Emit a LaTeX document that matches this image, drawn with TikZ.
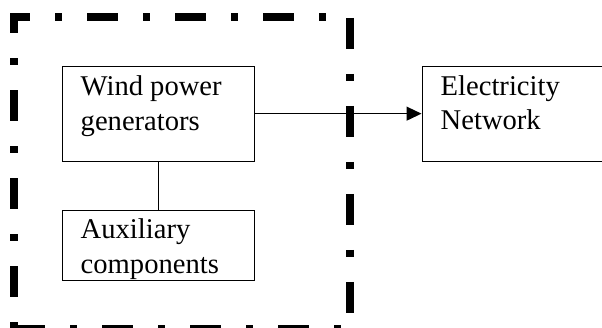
\documentclass[tikz,border=0pt]{standalone}
\usepackage{fontspec}
\setmainfont{Liberation Serif}
\usetikzlibrary{arrows.meta}
\begin{document}
\begin{tikzpicture}[x=1pt,y=-1pt,
  box/.style={draw, line width=1.3pt, inner sep=0pt, anchor=north west},
  txt/.style={anchor=base west, inner sep=0pt, align=left,
    font=\fontsize{28.6}{34.5}\selectfont},
  frame/.style={line width=7.5pt, line cap=butt, line join=miter,
    dash pattern=on 31pt off 25pt on 7pt off 25pt},
  conn/.style={line width=1.3pt}]
\useasboundingbox (0,0) rectangle (602,327);
% dash-dot frame
\coordinate (tl) at (13.75,16.75);
\coordinate (tr) at (350,16.75);
\coordinate (br) at (350,328.75);
\coordinate (bl) at (13.75,328.75);
\coordinate (tltop) at (13.75,13);
\draw[frame, dash phase=14.75pt] (tl) -- (tr) -- (br) -- (bl);
\draw[frame, dash phase=11pt] (tltop) -- (bl);
% boxes
\node[box, minimum width=192.5pt, minimum height=95pt] (wind) at (61.5,66) {};
\node[box, minimum width=192.5pt, minimum height=70pt] (aux) at (61.5,210) {};
\node[box, minimum width=190pt, minimum height=95pt] (elec) at (421.5,65.5) {};
% texts (anchor is the baseline of the last line)
\node[txt] (windtxt) at (80.5,130.2) {Wind power\\generators};
\node[txt] (auxtxt) at (80.5,273) {Auxiliary\\components};
\node[txt] (electxt) at (440.5,129.5) {Electricity\\Network};
% connectors
\draw[conn] (wind.south) -- (aux.north);
\draw[conn, -{Triangle[length=15pt,width=14pt]}] (wind.east |- elec.west) -- (elec.west);
\end{tikzpicture}
\end{document}
